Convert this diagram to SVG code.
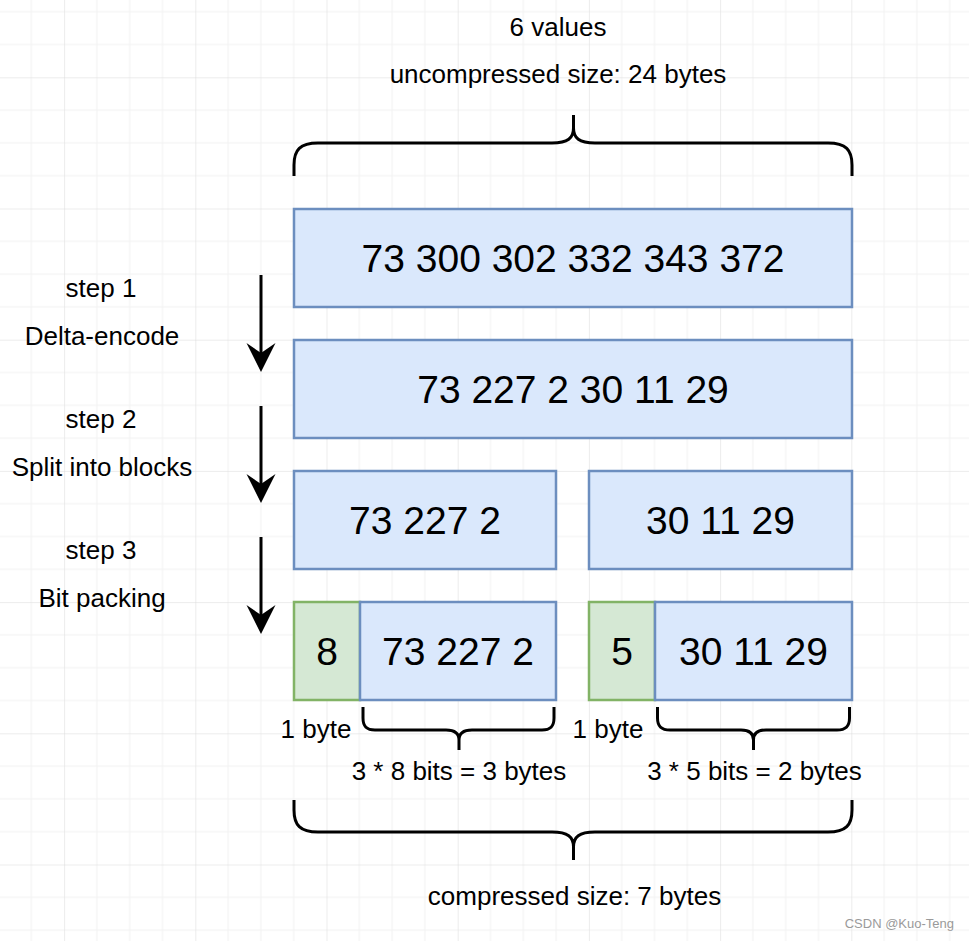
<svg xmlns="http://www.w3.org/2000/svg" width="969" height="941" viewBox="0 0 969 941">
  <defs>
    <pattern id="grid" patternUnits="userSpaceOnUse" x="64.1" y="77.3" width="131.2" height="131.2">
      <path d="M32.8,0 V131.2 M65.6,0 V131.2 M98.4,0 V131.2 M0,32.8 H131.2 M0,65.6 H131.2 M0,98.4 H131.2" stroke="#f2f2f2" stroke-width="1" fill="none"/>
      <path d="M0,0 V131.2 M0,0 H131.2" stroke="#dadada" stroke-width="1" fill="none"/>
    </pattern>
    <marker id="arrow" markerUnits="userSpaceOnUse" markerWidth="40" markerHeight="40" viewBox="-25 -20 40 40" refX="0" refY="0" orient="auto" overflow="visible">
      <path d="M10,0 L-19,-14.5 L-9,0 L-19,14.5 Z" fill="#000"/>
    </marker>
  </defs>
  <style>
    .blue { fill: #dae8fc; stroke: #6c8ebf; stroke-width: 2.5; }
    .green { fill: #d5e8d4; stroke: #82b366; stroke-width: 2.5; }
    .big { font-family: "Liberation Sans", Arial, sans-serif; font-size: 39px; fill: #000; text-anchor: middle; }
    .lbl { font-family: "Liberation Sans", Arial, sans-serif; font-size: 26px; fill: #000; text-anchor: middle; }
    .brace { fill: none; stroke: #000; stroke-width: 3; stroke-linejoin: round; }
    .conn { fill: none; stroke: #000; stroke-width: 3; }
  </style>
  <rect x="0" y="0" width="969" height="941" fill="#ffffff"/>
  <rect x="0" y="0" width="969" height="941" fill="url(#grid)"/>

  <g id="title">
    <text class="lbl" x="558" y="36">6 values</text>
    <text class="lbl" x="558" y="83">uncompressed size: 24 bytes</text>
  </g>

  <g id="brace-top">
    <path class="brace" d="M294,176 L294,165 C294,150 300,143 318,143 L552,143 C568,143 573.5,138 573.5,128 L573.5,115 M573.5,128 C573.5,138 579,143 595,143 L828,143 C846,143 852,150 852,165 L852,176"/>
  </g>

  <g id="box-values">
    <rect class="blue" x="294" y="209" width="558" height="98"/>
    <text class="big" x="573" y="272">73 300 302 332 343 372</text>
  </g>
  <g id="box-delta">
    <rect class="blue" x="294" y="340" width="558" height="98"/>
    <text class="big" x="573" y="403">73 227 2 30 11 29</text>
  </g>
  <g id="block-1">
    <rect class="blue" x="294" y="471" width="262" height="98"/>
    <text class="big" x="425" y="534">73 227 2</text>
  </g>
  <g id="block-2">
    <rect class="blue" x="589" y="471" width="263" height="98"/>
    <text class="big" x="720.5" y="534">30 11 29</text>
  </g>
  <g id="packed-1-width">
    <rect class="green" x="294" y="602" width="66" height="98"/>
    <text class="big" x="327" y="665">8</text>
  </g>
  <g id="packed-1-data">
    <rect class="blue" x="360" y="602" width="196" height="98"/>
    <text class="big" x="458" y="665">73 227 2</text>
  </g>
  <g id="packed-2-width">
    <rect class="green" x="589" y="602" width="66" height="98"/>
    <text class="big" x="622" y="665">5</text>
  </g>
  <g id="packed-2-data">
    <rect class="blue" x="655" y="602" width="197" height="98"/>
    <text class="big" x="753.5" y="665">30 11 29</text>
  </g>

  <g id="step-labels">
    <text class="lbl" x="101" y="297">step 1</text>
    <text class="lbl" x="102" y="345">Delta-encode</text>
    <text class="lbl" x="101" y="428">step 2</text>
    <text class="lbl" x="102" y="476">Split into blocks</text>
    <text class="lbl" x="101" y="559">step 3</text>
    <text class="lbl" x="102" y="607">Bit packing</text>
  </g>

  <g id="brace-small-1">
    <path class="brace" d="M363,707 L363,718 C363,726 366,730 375,730 L446,730 C455,730 459,734 459,740 L459,750 M459,740 C459,734 463,730 472,730 L542,730 C551,730 554,726 554,718 L554,707"/>
  </g>
  <g id="brace-small-2">
    <path class="brace" d="M657.5,707 L657.5,718 C657.5,726 661,730 670,730 L741,730 C750,730 753.5,734 753.5,740 L753.5,750 M753.5,740 C753.5,734 757,730 766,730 L837,730 C846,730 849.5,726 849.5,718 L849.5,707"/>
  </g>
  <g id="size-labels">
    <text class="lbl" x="316" y="738">1 byte</text>
    <text class="lbl" x="608" y="738">1 byte</text>
    <text class="lbl" x="459" y="780">3 * 8 bits = 3 bytes</text>
    <text class="lbl" x="754.5" y="780">3 * 5 bits = 2 bytes</text>
  </g>

  <g id="brace-bottom">
    <path class="brace" d="M294,800 L294,810 C294,825 300,832 318,832 L552,832 C568,832 573.5,837 573.5,847 L573.5,860 M573.5,847 C573.5,837 579,832 595,832 L828,832 C846,832 852,825 852,810 L852,800"/>
  </g>
  <g id="compressed">
    <text class="lbl" x="574.5" y="905">compressed size: 7 bytes</text>
  </g>

  <g id="connectors">
    <path class="conn" d="M261,275 L261,362" marker-end="url(#arrow)"/>
    <path class="conn" d="M261,406 L261,493" marker-end="url(#arrow)"/>
    <path class="conn" d="M261,537 L261,624" marker-end="url(#arrow)"/>
  </g>

  <g id="watermark">
    <text x="954" y="928" font-family="'Liberation Sans', Arial, sans-serif" font-size="13" fill="#9a9a9a" text-anchor="end">CSDN @Kuo-Teng</text>
  </g>
</svg>
